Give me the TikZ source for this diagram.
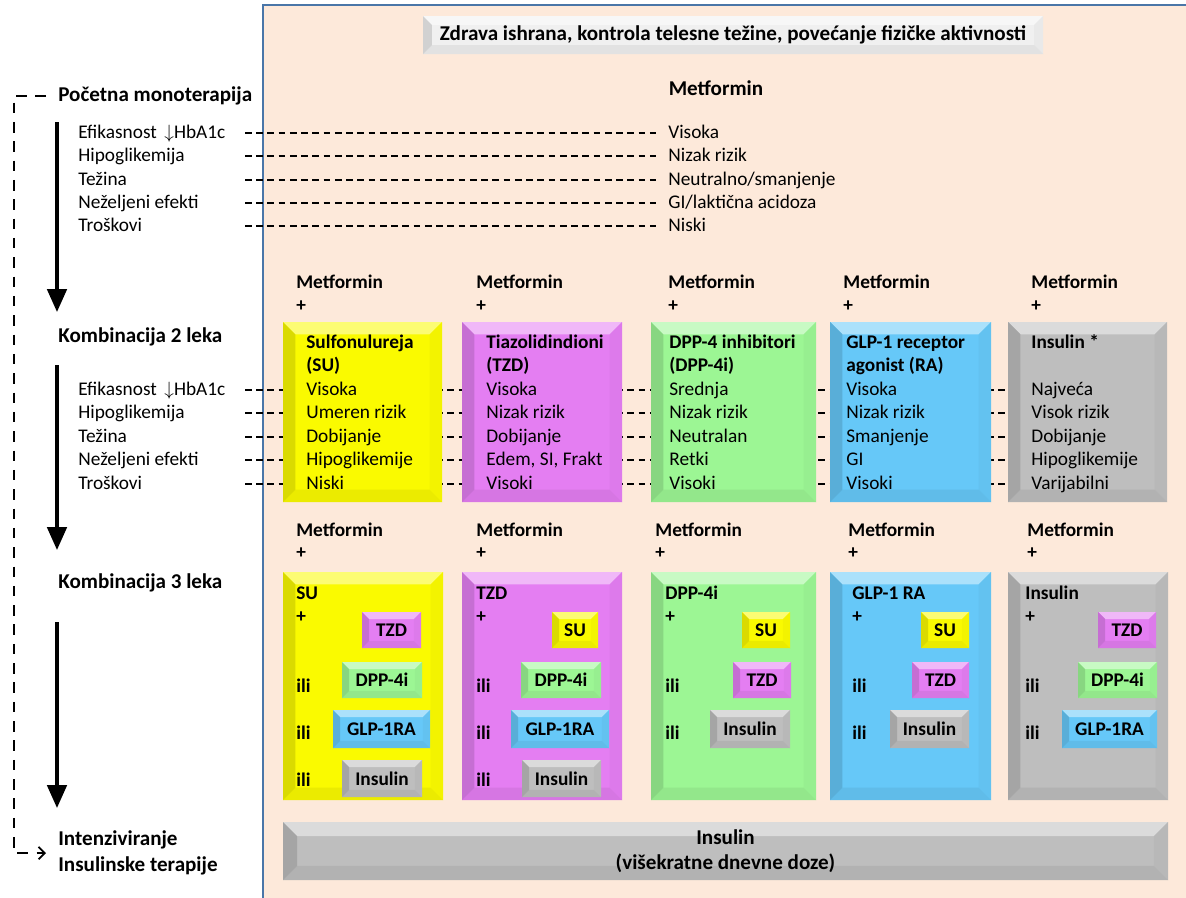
\documentclass[tikz,border=0pt]{standalone}
\usepackage{fontspec}
\setmainfont{Carlito}
\usetikzlibrary{arrows.meta,calc,fit}

\definecolor{peach}{RGB}{253,233,218}
\definecolor{frameblue}{RGB}{74,118,168}
\definecolor{suyel}{RGB}{250,250,0}
\definecolor{tzdpink}{RGB}{228,126,242}
\definecolor{dppgreen}{RGB}{156,246,148}
\definecolor{glpblue}{RGB}{102,200,248}
\definecolor{insgray}{RGB}{190,190,190}
\definecolor{hdrgray}{RGB}{240,240,240}

\pgfdeclarelayer{back}
\pgfdeclarelayer{lines}
\pgfsetlayers{back,lines,main}

\newcommand{\bigbf}{\bfseries\fontsize{12pt}{14.4pt}\selectfont}

\tikzset{
  lbl/.style={anchor=west, inner sep=0pt, text height=1.55ex, text depth=.45ex},
  blbl/.style={lbl, font=\bfseries},
  stagelbl/.style={lbl, font=\bigbf},
  dashline/.style={dash pattern=on 3.8pt off 2.6pt, line width=.8pt},
  stageline/.style={dash pattern=on 6pt off 5pt, line width=1pt},
  bigarrow/.style={line width=2pt, -{Triangle[width=11pt,length=13pt]}},
  bevbox/.style 2 args={fill=#1, inner sep=0pt, path picture={
      \coordinate (bl) at (path picture bounding box.south west);
      \coordinate (br) at (path picture bounding box.south east);
      \coordinate (tl) at (path picture bounding box.north west);
      \coordinate (tr) at (path picture bounding box.north east);
      \fill[#1!55!white] (tl) -- (tr) -- ($(tr)+(-#2,-#2)$) -- ($(tl)+(#2,-#2)$) -- cycle;
      \fill[#1!97!black] (tr) -- (br) -- ($(br)+(-#2,#2)$) -- ($(tr)+(-#2,-#2)$) -- cycle;
      \fill[#1!94!black] (br) -- (bl) -- ($(bl)+(#2,#2)$) -- ($(br)+(-#2,#2)$) -- cycle;
      \fill[#1!87!black] (bl) -- (tl) -- ($(tl)+(#2,-#2)$) -- ($(bl)+(#2,#2)$) -- cycle;
  }},
  bigbox/.style={bevbox={#1}{7pt}},
  sbox/.style={bevbox={#1}{4pt}},
  boxtxt/.style={label={[font=\bfseries, inner sep=0pt]center:#1}},
}

\begin{document}
\fontsize{11pt}{13.2pt}\selectfont
\begin{tikzpicture}[x=0.02cm, y=-0.02cm]
\useasboundingbox (0,0) rectangle (1186,897);

% panel
\begin{pgfonlayer}{back}
\fill[peach] (263,5) rectangle (1200,910);
\draw[frameblue, line width=1.6pt] (263,910) -- (263,5) -- (1200,5);
\end{pgfonlayer}

\node (hdr) [bevbox={hdrgray}{5pt}, fit={(423,16) (1043,54)}] {};
\node (hdrtxt) [font=\bigbf, inner sep=0pt] at (hdr.center) {Zdrava ishrana, kontrola telesne težine, povećanje fizičke aktivnosti};

\coordinate (dstart) at (245,0);
\coordinate (rail) at (14,0);

% stages
\node (start) [stagelbl] at (58,96) {Početna monoterapija};
\node (komb2) [stagelbl] at (58,337) {Kombinacija 2 leka};
\node (komb3) [stagelbl] at (58,583) {Kombinacija 3 leka};
\node (intenz) [anchor=west, inner sep=0pt, align=left, font=\bigbf] at (58,853) {Intenziviranje\\[0pt]Insulinske terapije};

\draw[bigarrow] ($(start.west)+(-1,26)$) -- ($(komb2.west)+(-1,-25)$);
\draw[bigarrow] ($(komb2.west)+(-1,28)$) -- ($(komb3.west)+(-1,-33)$);
\draw[bigarrow] ($(komb3.west)+(-1,39)$) -- ($(intenz.west)+(-1,-45)$);
\draw[stageline, -{Straight Barb[length=3.5pt,width=7pt]}] ($(start.west)+(-12,0)$) -| (intenz.west -| rail) -- ($(intenz.west)+(-12,0)$);

% monoterapija
\node (met1) [font=\bigbf, inner sep=0pt] at (716,88) {Metformin};
\foreach \nm/\yy/\tx/\vl in {a/133/{Efikasnost \,$\downarrow$HbA1c}/Visoka, b/156/Hipoglikemija/{Nizak rizik},
    c/180/Težina/{Neutralno/smanjenje}, d/203/{Neželjeni efekti}/{GI/laktična acidoza}, e/226/Troškovi/Niski} {
  \node (l1\nm) [lbl] at (78,\yy) {\tx};
  \node (v1\nm) [lbl] at (668,\yy) {\vl};
  \begin{pgfonlayer}{lines}
  \draw[dashline, shorten >=7pt] (l1\nm.east -| dstart) -- (v1\nm.west);
  \end{pgfonlayer}
}

% kombinacija 2 leka
\node (su2) [bigbox=suyel, fit={(283,322) (442,502)}] {};
\node (tzd2) [bigbox=tzdpink, fit={(462,322) (622,502)}] {};
\node (dpp2) [bigbox=dppgreen, fit={(651,322) (816,502)}] {};
\node (glp2) [bigbox=glpblue, fit={(830,322) (991,502)}] {};
\node (ins2) [bigbox=insgray, fit={(1008,322) (1167,502)}] {};

\foreach \nm/\yy/\tx in {a/390/{Efikasnost \,$\downarrow$HbA1c}, b/413/Hipoglikemija, c/437/Težina,
    d/460/{Neželjeni efekti}, e/484/Troškovi} {
  \node (l2\nm) [lbl] at (78,\yy) {\tx};
  \begin{pgfonlayer}{lines}
  \draw[dashline] (l2\nm.east -| dstart) -- (l2\nm.east -| ins2.west);
  \end{pgfonlayer}
}

\foreach \col/\hx/\xx/\ta/\tb/\va/\vb/\vc/\vd/\ve in {
    su/296/306/Sulfonulureja/(SU)/Visoka/{Umeren rizik}/Dobijanje/Hipoglikemije/Niski,
    tzd/476/486/Tiazolidindioni/(TZD)/Visoka/{Nizak rizik}/Dobijanje/{Edem, SI, Frakt}/Visoki,
    dpp/668/669/{DPP-4 inhibitori}/(DPP-4i)/Srednja/{Nizak rizik}/Neutralan/Retki/Visoki,
    glp/843/846/{GLP-1 receptor}/{agonist (RA)}/Visoka/{Nizak rizik}/Smanjenje/GI/Visoki,
    ins/1031/1031/{Insulin *}/{}/Najveća/{Visok rizik}/Dobijanje/Hipoglikemije/Varijabilni} {
  \node (\col-m2) [blbl] at (\hx,283) {Metformin};
  \node (\col-p2) [blbl] at (\hx,306) {+};
  \node (\col-ta) [blbl] at (\xx,343) {\ta};
  \node (\col-tb) [blbl] at (\xx,366) {\tb};
  \node (\col-va) [lbl] at (\xx,390) {\va};
  \node (\col-vb) [lbl] at (\xx,413) {\vb};
  \node (\col-vc) [lbl] at (\xx,437) {\vc};
  \node (\col-vd) [lbl] at (\xx,460) {\vd};
  \node (\col-ve) [lbl] at (\xx,484) {\ve};
}

% kombinacija 3 leka
\node (su3) [bigbox=suyel, fit={(283,572) (443,800)}] {};
\node (tzd3) [bigbox=tzdpink, fit={(462,572) (622,800)}] {};
\node (dpp3) [bigbox=dppgreen, fit={(651,572) (816,800)}] {};
\node (glp3) [bigbox=glpblue, fit={(830,572) (991,800)}] {};
\node (ins3) [bigbox=insgray, fit={(1008,572) (1168,800)}] {};

\foreach \col/\hx/\xx/\ti/\nili in {su/296/296/SU/3, tzd/476/476/TZD/3, dpp/655/665/DPP-4i/2,
    glp/848/852/{GLP-1 RA}/2, ins/1027/1025/Insulin/2} {
  \node (\col-m3) [blbl] at (\hx,531) {Metformin};
  \node (\col-p3) [blbl] at (\hx,553) {+};
  \node (\col-t3) [blbl] at (\xx,594) {\ti};
  \node (\col-q3) [blbl] at (\xx,617) {+};
  \foreach \k in {1,...,\nili}
    \node (\col-ili\k) [blbl] at (\xx,640+47*\k) {ili};
}

\foreach \nm/\cl/\xa/\ya/\xb/\yb/\tx in {
    su3a/tzdpink/362/612/421/648/TZD, su3b/dppgreen/342/662/422/698/DPP-4i,
    su3c/glpblue/333/710/430/748/GLP-1RA, su3d/insgray/342/760/422/797/Insulin,
    tzd3a/suyel/552/612/598/648/SU, tzd3b/dppgreen/521/662/601/698/DPP-4i,
    tzd3c/glpblue/511/710/609/748/GLP-1RA, tzd3d/insgray/522/760/601/797/Insulin,
    dpp3a/suyel/742/612/790/648/SU, dpp3b/tzdpink/733/662/791/698/TZD,
    dpp3c/insgray/710/710/790/748/Insulin,
    glp3a/suyel/921/612/969/648/SU, glp3b/tzdpink/912/662/969/698/TZD,
    glp3c/insgray/890/710/969/748/Insulin,
    ins3a/tzdpink/1098/612/1156/648/TZD, ins3b/dppgreen/1078/662/1157/698/DPP-4i,
    ins3c/glpblue/1062/710/1157/748/GLP-1RA} {
  \node (\nm) [sbox=\cl, boxtxt=\tx, fit={(\xa,\ya) (\xb,\yb)}] {};
}

% intenziviranje
\node (insbar) [bevbox={insgray}{8pt}, fit={(283,822) (1168,880)}] {};
\node (insbartxt) [font=\bigbf, align=center, inner sep=0pt] at (insbar.center) {Insulin\\[0pt](višekratne dnevne doze)};
\end{tikzpicture}
\end{document}
